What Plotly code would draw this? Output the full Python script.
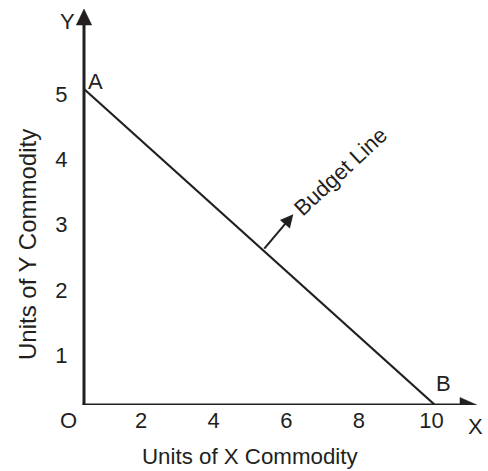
import plotly.graph_objects as go

# ---------------- data ----------------
budget_x = [0, 10]
budget_y = [5, 0]
point_names = ["A", "B"]
x_tick_vals = [0, 2, 4, 6, 8, 10]
x_tick_text = ["O", "2", "4", "6", "8", "10"]
y_tick_vals = [1, 2, 3, 4, 5]
y_tick_text = ["1", "2", "3", "4", "5"]
x_title = "Units of X Commodity"
y_title = "Units of Y Commodity"
budget_label = "Budget Line"
axis_names = ["X", "Y"]

# ---------------- layout geometry ----------------
W, H = 488, 471
ML, MR, MT, MB = 40, 5, 5, 66
PW = W - ML - MR
PH = H - MT - MB
OX, OY = 84.0, 405.0          # pixel of data origin
SX, SY = 35.1, 63.2           # pixels per data unit
LX0, LSX = 68.5, 36.3         # tick label scale (x)
LY0, LSY = 420.5, 65.3        # tick label scale (y)

INK = "#231f20"
FONT = "Arial, 'Liberation Sans', sans-serif"


def px2x(p):
    return (p - OX) / SX


def px2y(p):
    return (OY - p) / SY


def ppx(p):
    return (p - ML) / PW


def ppy(p):
    return (MT + PH - p) / PH


fig = go.Figure()

# budget line
fig.add_trace(go.Scatter(x=budget_x, y=budget_y, mode="lines",
                         line=dict(color=INK, width=2.2),
                         showlegend=False, hoverinfo="skip"))
# dummy trace for the label axes
fig.add_trace(go.Scatter(x=[None], y=[None], xaxis="x2", yaxis="y2",
                         showlegend=False, hoverinfo="skip"))

shapes = []
# axes lines
shapes.append(dict(type="line", xref="x", yref="y",
                   x0=0, y0=px2y(OY + 1.5), x1=0, y1=px2y(24),
                   line=dict(color=INK, width=3)))
shapes.append(dict(type="line", xref="x", yref="y",
                   x0=px2x(OX - 1.5), y0=0, x1=px2x(461), y1=0,
                   line=dict(color=INK, width=3)))
# arrow heads
shapes.append(dict(type="path", xref="x", yref="y",
                   path=f"M {px2x(OX-7.7)},{px2y(25)} L {px2x(OX)},{px2y(9)} L {px2x(OX+7.7)},{px2y(25)} Z",
                   fillcolor=INK, line=dict(color=INK, width=0.5)))
shapes.append(dict(type="path", xref="x", yref="y",
                   path=f"M {px2x(460)},{px2y(OY-7.5)} L {px2x(477)},{px2y(OY)} L {px2x(460)},{px2y(OY+7.5)} Z",
                   fillcolor=INK, line=dict(color=INK, width=0.5)))

f22 = dict(size=22, color=INK, family=FONT)
C = dict(xanchor="center", yanchor="middle", showarrow=False)
ann = []
# budget line pointer arrow
ann.append(dict(x=px2x(293.3), y=px2y(214.3), ax=5.1, ay=2.45,
                xref="x", yref="y", axref="x", ayref="y",
                text="", showarrow=True, arrowhead=2, arrowsize=1.3,
                arrowwidth=2, arrowcolor=INK))
ann.append(dict(x=px2x(340.5), y=px2y(171.5), xref="x", yref="y",
                text=budget_label, textangle=-43, font=f22, **C))
# point labels
ann.append(dict(x=budget_x[0], y=budget_y[0], xref="x", yref="y",
                text=point_names[0], xshift=11, yshift=8, font=f22, **C))
ann.append(dict(x=budget_x[1], y=budget_y[1], xref="x", yref="y",
                text=point_names[1], xshift=8, yshift=22, font=f22, **C))
# axis letters
ann.append(dict(x=ppx(475), y=ppy(426), xref="paper", yref="paper",
                text=axis_names[0], font=f22, **C))
ann.append(dict(x=ppx(67), y=ppy(22), xref="paper", yref="paper",
                text=axis_names[1], font=f22, **C))
# axis titles
ann.append(dict(x=ppx(250), y=ppy(456), xref="paper", yref="paper",
                text=x_title, font=dict(size=22.3, color=INK, family=FONT), **C))
ann.append(dict(x=ppx(27), y=ppy(245), xref="paper", yref="paper",
                text=y_title, textangle=-90,
                font=dict(size=24, color=INK, family=FONT), **C))

fig.update_layout(
    width=W, height=H,
    margin=dict(l=ML, r=MR, t=MT, b=MB, pad=0),
    paper_bgcolor="white", plot_bgcolor="white",
    showlegend=False,
    xaxis=dict(range=[px2x(ML), px2x(ML + PW)], visible=False, fixedrange=True),
    yaxis=dict(range=[px2y(MT + PH), px2y(MT)], visible=False, fixedrange=True),
    xaxis2=dict(overlaying="x", anchor="y", side="bottom",
                range=[(ML - LX0) / LSX, (ML + PW - LX0) / LSX],
                tickmode="array", tickvals=x_tick_vals, ticktext=x_tick_text,
                showgrid=False, zeroline=False, showline=False,
                ticks="", tickfont=f22, fixedrange=True),
    yaxis2=dict(overlaying="y", anchor="free", position=(75 - ML) / PW, side="left",
                range=[(LY0 - (MT + PH)) / LSY, (LY0 - MT) / LSY],
                tickmode="array", tickvals=y_tick_vals, ticktext=y_tick_text,
                showgrid=False, zeroline=False, showline=False,
                ticks="outside", ticklen=3, tickcolor="rgba(0,0,0,0)",
                tickfont=f22, fixedrange=True),
    shapes=shapes,
    annotations=ann,
)

fig.write_html("out.html", config={"displayModeBar": False},
               post_script="document.body.style.margin='0';")
